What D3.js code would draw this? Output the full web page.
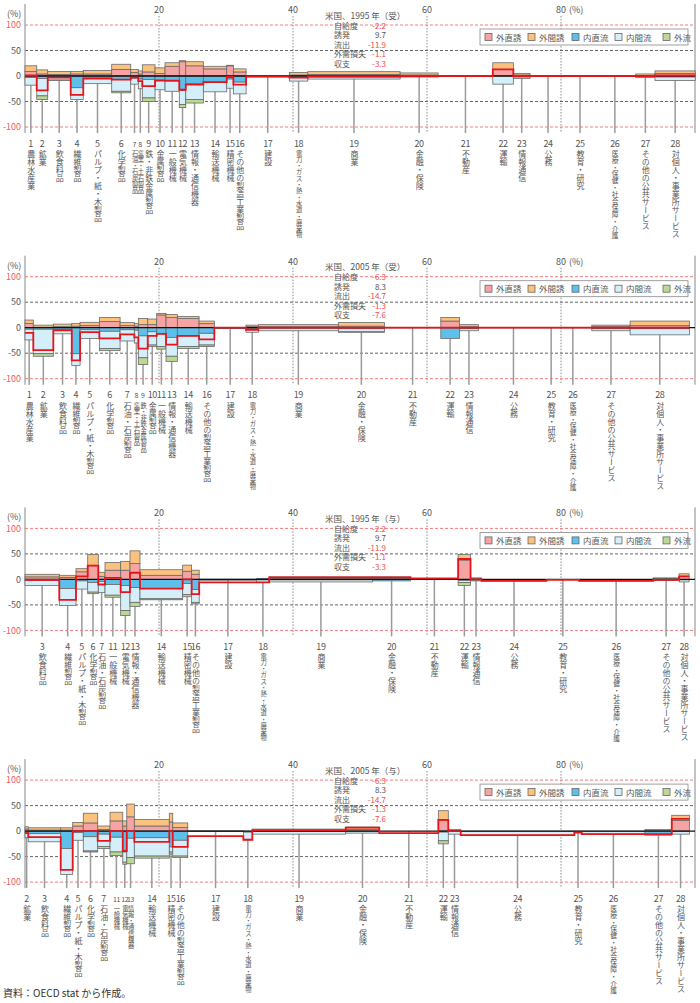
<!DOCTYPE html>
<html><head><meta charset="utf-8">
<script src="https://cdn.jsdelivr.net/npm/d3@7"></script>
<style>
html,body{margin:0;padding:0;background:#fff;}
#wrap{position:relative;width:700px;height:1003px;overflow:hidden;}
svg{position:absolute;left:0;top:0;display:block;font-family:"Noto Sans CJK JP","Noto Sans",sans-serif;}
.vlab{position:absolute;writing-mode:vertical-rl;text-orientation:mixed;line-height:1;white-space:nowrap;
  font-family:"Noto Sans CJK JP",sans-serif;color:#555;transform:translateX(-50%);}
</style></head>
<body>
<div id="wrap"><svg id="chart" width="700" height="1003"></svg></div>
<script>
// ---------- DATA ----------
const industryCodes = [1,2,3,4,5,6,7,8,9,10,11,12,13,14,15,16,17,18,19,20,21,22,23,24,25,26,27,28];
const industryNames = ["農林水産業","鉱業","飲食料品","繊維製品","パルプ・紙・木製品","化学製品","石油・石炭製品","窯業・土石製品","鉄・非鉄金属製品","金属製品","一般機械","電気機械","情報・通信機器","輸送機械","精密機械","その他の製造工業製品","建設","電力・ガス・熱・水道・廃棄物","商業","金融・保険","不動産","運輸","情報通信","公務","教育・研究","医療・保健・社会保障・介護","その他の公共サービス","対個人・事業所サービス"];
const seriesNames = ["外直誘","外間誘","内直流","内間流","外流"];
const yTicks = [100,50,0,-50,-100];
const xTicks = [20,40,60,80];
const infoLabels = ["自給度","誘発","流出","外需損失","収支"];
const info1995 = [-2.2, 9.7, -11.9, -1.1, -3.3];
const info2005 = [-6.3, 8.3, -14.7, -1.3, -7.6];

// Panel 1: 米国 1995（受）
const p1Codes = [1,2,3,4,5,6,7,8,9,10,11,12,13,14,15,16,17,18,19,20,21,22,23,24,25,26,27,28];
const p1Width = [1.75,1.64,3.43,1.88,4.24,2.84,1.13,0.6,1.9,1.49,2.13,0.96,2.63,3.49,0.99,1.9,6.46,2.75,13.78,5.67,8.16,3.07,2.49,5.37,4.18,6.22,2.88,6.01];
const p1GaiChoku = [9,4,3,4,4,13,7,4,8,5,19,28,20,14,20,8,0.5,2,3,2,0,13,2,0,0,0,1,5];
const p1GaiKan   = [11,8,6,5,7,10,6,6,14,11,7,2,8,5,1,6,0.5,5,5.5,4,0,13,3,0,0.3,0,3,5];
const p1NaiChoku = [3,5,3,23,4,7,4,6,7,8,10,28,15,12,6,12,0.5,3,2,1,0,0,2,0,0,0,1,2];
const p1NaiKan   = [15,34,5,23,11,23,12,19,36,19,20,28,31,19,18,23,1,7,4,1,0,16,3,0,0,0,2,7];
const p1GaiRyu   = [0,7,0.5,0,0,3,0,0,7,0,0,6,7,0,0,0,0,0,0,0,0,0,0,0,0,0,0,0];
const p1Net      = [1,-28,-3,-37,-5,-7,-3,-10,-20,-9,-9,-27,-17,-12,-2,-17,-1,-3,-1,0,0,13,0,0,0,0,0,1];

// Panel 2: 米国 2005（受）
const p2Codes = [1,2,3,4,5,6,7,8,9,10,11,13,14,16,17,18,19,20,21,22,23,24,25,26,27,28];
const p2Width = [1.24,2.99,2.75,1.24,2.88,3.09,2.13,0.6,1.4,1.34,1.39,1.69,3.24,2.28,4.73,1.84,11.94,6.87,8.42,2.78,2.84,10.45,0.8,5.67,5.72,8.85];
const p2GaiChoku = [8.5,1,2,3,4,12,4,3,6,6,25,20,18,8,0,2,2,3,0,13,2,0,0,0,2,4];
const p2GaiKan   = [6.5,4,5,5.5,6.5,8,6,5,12,11,3,6,4,5,0.5,3,4,7,0,7,4,0,0,0,3,9];
const p2NaiChoku = [3,3,3,51,4,7,4,5,16,8,12,19,16,11,0.5,2,1,2,0,21,2,0,0,0,2,2];
const p2NaiKan   = [21,48,9,23,17,34,22,25,43,26,25,37,21,23,1,7,5,6,0,0,4,0,0,0,4,12];
const p2GaiRyu   = [0,5,0,0,0,4,0,0,13,3,5,10,4,3,0,0,0,0.5,0,0,0,0,0,0,0,0];
const p2Net      = [-10,-44,-5,-64,-8.5,-21,-13,-19,-41,-16,-12,-33,-16,-23,0,-4,0,0,0,0,0,0,0,0,0,0];

// Panel 3: 米国 1995（与）
const p3Codes = [3,4,5,6,7,11,12,13,14,15,16,17,18,19,20,21,22,23,24,25,26,27,28];
const p3Width = [5.12,2.49,1.75,1.58,1.0,2.34,1.39,1.49,6.37,1.34,1.13,8.57,1.88,15.43,5.67,7.1,1.85,1.64,9.7,4.87,11.04,3.88,1.49];
const p3GaiChoku = [5,4,15,27,6,18,18,31,8,16,10,0,1,2,2,0,38,1,0,0,0,1,6];
const p3GaiKan   = [5,4,6,22,8,15,17,25,11,12,8,0.5,1,3,3,0,11,2,0,0,0,2,5];
const p3NaiChoku = [2,18,3,6,4,10,12,16,18,8,20,0.5,1,1,3,0,2,1,1,0,1,2,1];
const p3NaiKan   = [10,33,16,19,22,21,49,29,20,22,25,1,5,4,0,0,4,2,2,0,2,0,4];
const p3GaiRyu   = [0,0,0,3,0,4,10,8,2,4,3,0,0,0,0,0,6,0,0,0,0,0,0];
const p3Net      = [-1,-40,6,27,-10,3,-25,13,-18,0,-29,-6,-6,4,4,2,40,0,-3,-1,-3,-1,6];

// Panel 4: 米国 2005（与）
const p4Codes = [2,3,4,5,6,7,11,12,13,14,15,16,17,18,19,20,21,22,23,24,25,26,27,28];
const p4Width = [0.49,4.84,1.79,1.58,2.15,1.84,1.9,0.6,1.13,5.22,0.51,2.24,8.3,1.34,13.94,5.01,8.81,1.49,1.85,16.96,1.1,9.45,3.99,2.63];
const p4GaiChoku = [4,2,2,10,16,3,20,10,28,10,18,7,0,0,1,3,0,22,1,0,0,0,1,21];
const p4GaiKan   = [4.5,4.5,4.5,7,19,7,17,10,25,13,17,9,0.5,0,3,5,0,18,2,0,0,0,2,10];
const p4NaiChoku = [3,5,34,3,11,6,12,41,14,13,31,18,0,2,1,1,0,2,1,1,0,1,8,1];
const p4NaiKan   = [10,16,51,15,28,24,29,20,38,36,10,31,1,15,5,3,0,17,5,7,2,5,0,5];
const p4GaiRyu   = [0,0,0,0,2,4,7,4,12,4,4,3,0,0,0,0,0,6,0,0,0,0,0,0];
const p4Net      = [-4,-12,-76,0,0,-19,0,-39,0,-21,0,-31,-10,-17,2,7,-4,22,0,-8,-3,-6,-6,24];

// ---------- STYLE / LAYOUT ----------
const colors = ["#f6a3a3","#fbc27f","#5cc0ea","#d4eefa","#bcd993"];
const panels = [
  {year:1995, side:"受", info:info1995, codes:p1Codes, width:p1Width, s:[p1GaiChoku,p1GaiKan,p1NaiChoku,p1NaiKan,p1GaiRyu], net:p1Net, small:[7,8]},
  {year:2005, side:"受", info:info2005, codes:p2Codes, width:p2Width, s:[p2GaiChoku,p2GaiKan,p2NaiChoku,p2NaiKan,p2GaiRyu], net:p2Net, small:[8,9]},
  {year:1995, side:"与", info:info1995, codes:p3Codes, width:p3Width, s:[p3GaiChoku,p3GaiKan,p3NaiChoku,p3NaiKan,p3GaiRyu], net:p3Net, small:[]},
  {year:2005, side:"与", info:info2005, codes:p4Codes, width:p4Width, s:[p4GaiChoku,p4GaiKan,p4NaiChoku,p4NaiKan,p4GaiRyu], net:p4Net, small:[11,12,13]}
];

const svg = d3.select("#chart");
const wrap = d3.select("#wrap");
const x = d3.scaleLinear().domain([0,100]).range([25,695]);

panels.forEach((p, pi) => {
  const y0 = 76 + pi*251.7;
  const y = d3.scaleLinear().domain([-100,100]).range([y0+51, y0-51]);
  const g = svg.append("g");

  xTicks.forEach(t => {
    g.append("line").attr("x1",x(t)).attr("x2",x(t)).attr("y1",y0-60).attr("y2",y0+57)
      .attr("stroke","#888").attr("stroke-width",1).attr("stroke-dasharray","1.5,1.5");
  });
  yTicks.filter(t=>t!==0).forEach(t => {
    g.append("line").attr("x1",x(0)).attr("x2",x(100)).attr("y1",y(t)).attr("y2",y(t))
      .attr("stroke", Math.abs(t)===100 ? "#f27c7c" : "#666")
      .attr("stroke-width",1).attr("stroke-dasharray","3,2");
  });
  g.append("line").attr("x1",x(0)).attr("x2",x(0)).attr("y1",y0-72).attr("y2",y0+57).attr("stroke","#888").attr("stroke-width",1);
  g.append("line").attr("x1",x(100)).attr("x2",x(100)).attr("y1",y0-72).attr("y2",y0+57).attr("stroke","#888").attr("stroke-width",1);

  yTicks.forEach(t => {
    g.append("text").attr("x",21).attr("y",y(t)).attr("dy","0.35em").attr("text-anchor","end")
      .attr("font-size",9).attr("fill", Math.abs(t)===100 ? "#f05a5a" : "#555").text(t);
  });
  g.append("text").attr("x",7).attr("y",y0-59).attr("font-size",9).attr("fill","#555").text("(%)");
  xTicks.forEach(t => {
    g.append("text").attr("x",x(t)).attr("y",y0-63).attr("text-anchor","middle")
      .attr("font-size",9).attr("fill","#555").text(t);
  });
  g.append("text").attr("x",x(80)+8).attr("y",y0-63).attr("font-size",9).attr("fill","#555").text("(%)");

  let cum = 0;
  const items = p.codes.map((c,i) => {
    const x0 = cum; cum += p.width[i];
    return {code:c, x0, x1:cum, vals:p.s.map(a=>a[i]), net:p.net[i]};
  });

  items.forEach(d => {
    const cx = x((d.x0+d.x1)/2);
    g.append("line").attr("x1",cx).attr("x2",cx).attr("y1",y0).attr("y2",y0+57)
      .attr("stroke","#9a9a9a").attr("stroke-width",1.5);
  });

  items.forEach(d => {
    const [a,b,c,e,f] = d.vals;
    const segs = [
      {lo:0, hi:a, k:0}, {lo:a, hi:a+b, k:1},
      {lo:-c, hi:0, k:2}, {lo:-c-e, hi:-c, k:3}, {lo:-c-e-f, hi:-c-e, k:4}
    ];
    segs.forEach(s => {
      if (s.hi - s.lo <= 0) return;
      g.append("rect").attr("x",x(d.x0)).attr("width",x(d.x1)-x(d.x0))
        .attr("y",y(s.hi)).attr("height",Math.max(0.5,y(s.lo)-y(s.hi)))
        .attr("fill",colors[s.k]).attr("stroke","#6a6a6a").attr("stroke-width",0.8);
    });
  });

  g.append("line").attr("x1",x(0)).attr("x2",x(100)).attr("y1",y(0)).attr("y2",y(0))
    .attr("stroke","#111").attr("stroke-width",1.3);

  const pts = [];
  items.forEach(d => { pts.push([d.x0,d.net]); pts.push([d.x1,d.net]); });
  g.append("path").attr("d", d3.line().x(v=>x(v[0])).y(v=>y(v[1]))(pts))
    .attr("fill","none").attr("stroke","#e8141c").attr("stroke-width",1.8);

  items.forEach(d => {
    const cx = x((d.x0+d.x1)/2);
    const isSmall = p.small.includes(d.code);
    g.append("text").attr("x",cx).attr("y",y0+70.5).attr("text-anchor","middle")
      .attr("font-size", isSmall ? 7 : 9).attr("letter-spacing", d.code>=10 ? -0.4 : 0)
      .attr("fill","#555").text(d.code);
    let fs = 8;
    if (d.code===18) fs = 6.3;
    else if (d.code===26) fs = 6.8;
    else if (isSmall) fs = 6.3;
    wrap.append("div").attr("class","vlab")
      .style("left", cx+"px").style("top", (y0+74)+"px").style("font-size", fs+"px")
      .text(industryNames[industryCodes.indexOf(d.code)]);
  });

  g.append("text").attr("x",325).attr("y",y0-57.5).attr("font-size",8.5).attr("fill","#555")
    .text(`米国、${p.year} 年（${p.side}）`);
  infoLabels.forEach((lab,i) => {
    const yy = y0-47.5 + i*9.5;
    g.append("text").attr("x",334).attr("y",yy).attr("font-size",8).attr("fill","#555").text(lab);
    const v = p.info[i];
    g.append("text").attr("x",386).attr("y",yy).attr("text-anchor","end").attr("font-size",8)
      .attr("fill", v<0 ? "#f04848" : "#555").text(v.toFixed(1));
  });

  const lg = g.append("g");
  lg.append("rect").attr("x",480).attr("y",y0-47).attr("width",208).attr("height",16)
    .attr("fill","#fff").attr("stroke","#888").attr("stroke-width",0.8);
  const lx = [485,528,572,615,663];
  seriesNames.forEach((n,i) => {
    lg.append("rect").attr("x",lx[i]).attr("y",y0-42.5).attr("width",7).attr("height",7)
      .attr("fill",colors[i]).attr("stroke","#666").attr("stroke-width",0.8);
    lg.append("text").attr("x",lx[i]+11).attr("y",y0-35.5).attr("font-size",8.5).attr("fill","#555").text(n);
  });
});

svg.append("text").attr("x",3).attr("y",997).attr("font-size",10).attr("fill","#333").text("資料：OECD stat から作成。");
</script>
</body></html>
